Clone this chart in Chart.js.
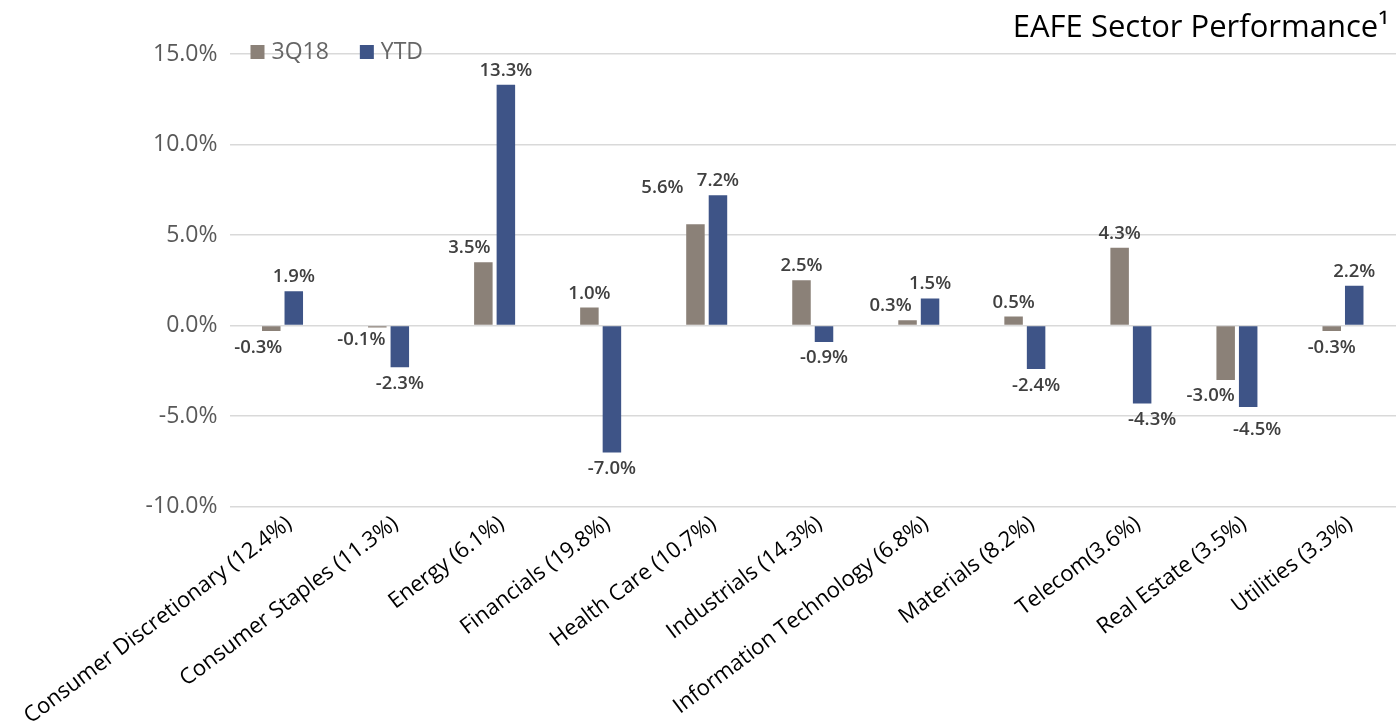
<!DOCTYPE html>
<html><head><meta charset="utf-8">
<script src="https://cdn.jsdelivr.net/npm/chart.js@4.4.1/dist/chart.umd.min.js"></script>
<style>html,body{margin:0;padding:0;background:#fff;overflow:hidden}canvas{display:block}</style>
</head><body><canvas id="c" width="1399" height="724"></canvas>
<script>
const categories = ['Consumer Discretionary (12.4%)','Consumer Staples (11.3%)','Energy (6.1%)','Financials (19.8%)','Health Care (10.7%)','Industrials (14.3%)','Information Technology (6.8%)','Materials (8.2%)','Telecom(3.6%)','Real Estate (3.5%)','Utilities (3.3%)'];
const seriesNames = ['3Q18','YTD'];
const q3Values = [-0.3,-0.1,3.5,1.0,5.6,2.5,0.3,0.5,4.3,-3.0,-0.3];
const ytdValues = [1.9,-2.3,13.3,-7.0,7.2,-0.9,1.5,-2.4,-4.3,-4.5,2.2];
const yMin = -10, yMax = 15, yStep = 5;
const titleText = 'EAFE Sector Performance\u00B9';

const FONT = '"Open Sans", Lato, sans-serif';
const colors = ['#8B8178','#3E5487'];

// label nudges (style only): [datasetIndex][categoryIndex] = [dx, dy]
const labelNudges = {0:{0:[-13,0],1:[-16,-4],2:[-14,0],4:[-33,-22],6:[-17,0],9:[-15,0]},1:{8:[10,0],9:[9,6]}};

const dataLabels = {
  id:'dataLabels',
  afterDatasetsDraw(chart){
    const ctx = chart.ctx;
    ctx.save();
    ctx.font = '600 18.5px ' + FONT;
    ctx.fillStyle = '#404040';
    ctx.textAlign = 'center';
    chart.data.datasets.forEach((ds, di) => {
      chart.getDatasetMeta(di).data.forEach((bar, i) => {
        const v = ds.data[i];
        const n = (labelNudges[di] && labelNudges[di][i]) || [0,0];
        const txt = v.toFixed(1) + '%';
        if (v >= 0) {
          ctx.textBaseline = 'alphabetic';
          ctx.fillText(txt, bar.x + n[0], bar.y - 9 + n[1]);
        } else {
          ctx.textBaseline = 'top';
          ctx.fillText(txt, bar.x + n[0], bar.y + 7 + n[1]);
        }
      });
    });
    ctx.restore();
  }
};

const titleLegend = {
  id:'titleLegend',
  afterDraw(chart){
    const ctx = chart.ctx;
    ctx.save();
    ctx.font = '31px ' + FONT;
    ctx.fillStyle = '#000';
    ctx.textAlign = 'right';
    ctx.textBaseline = 'alphabetic';
    ctx.fillText(titleText, chart.width - 10, 37);
    // legend
    ctx.font = '23px ' + FONT;
    ctx.textAlign = 'left';
    ctx.textBaseline = 'middle';
    let x = chart.chartArea.left + 21;
    const cy = chart.chartArea.top - 2;
    chart.data.datasets.forEach(ds => {
      ctx.fillStyle = ds.backgroundColor;
      ctx.fillRect(x, cy - 7, 14, 14);
      x += 21;
      ctx.fillStyle = '#666666';
      ctx.fillText(ds.label, x, cy);
      x += ctx.measureText(ds.label).width + 31;
    });
    ctx.restore();
  }
};

new Chart(document.getElementById('c'), {
  type:'bar',
  data:{
    labels: categories,
    datasets:[
      {label:seriesNames[0], data:q3Values, backgroundColor:colors[0]},
      {label:seriesNames[1], data:ytdValues, backgroundColor:colors[1]}
    ]
  },
  options:{
    responsive:false,
    animation:false,
    layout:{padding:{top:54,right:3,left:0,bottom:0}},
    categoryPercentage:0.4245,
    barPercentage:0.822,
    plugins:{legend:{display:false},title:{display:false},tooltip:{enabled:false}},
    scales:{
      x:{
        grid:{display:false,drawTicks:false},
        border:{display:false},
        ticks:{autoSkip:false,minRotation:37,maxRotation:37,color:'#000',font:{family:FONT,size:22},padding:4,labelOffset:7},
        afterFit(s){ s.height = 217.3; }
      },
      y:{
        min:yMin,max:yMax,
        grid:{color:'#D9D9D9',lineWidth:1.5,drawTicks:false},
        border:{display:false},
        ticks:{stepSize:yStep,color:'#595959',font:{family:FONT,size:23},padding:12,callback:v=>v.toFixed(1)+'%'},
        afterFit(s){ s.width = 229.5; }
      }
    }
  },
  plugins:[dataLabels,titleLegend]
});
</script>
</body></html>
